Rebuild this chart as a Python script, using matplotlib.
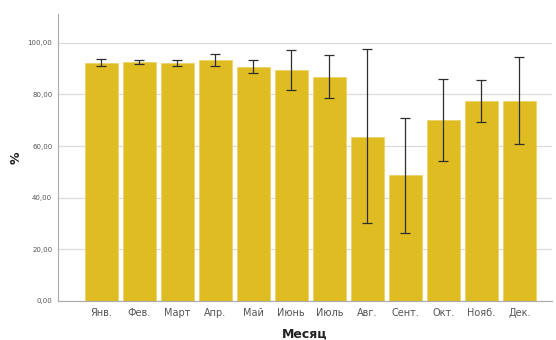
import matplotlib
matplotlib.use("Agg")
import matplotlib.pyplot as plt
import numpy as np

months = ["Янв.", "Фев.", "Март", "Апр.", "Май", "Июнь", "Июль", "Авг.", "Сент.", "Окт.", "Нояб.", "Дек."]
values = [92.2, 92.6, 92.2, 93.3, 90.8, 89.5, 86.9, 63.7, 48.6, 70.2, 77.4, 77.6]
err_high = [93.8, 93.4, 93.4, 95.7, 93.4, 97.3, 95.3, 97.7, 70.8, 86.0, 85.7, 94.4]
err_low = [91.1, 91.9, 91.2, 91.1, 88.4, 81.8, 78.6, 30.0, 26.5, 54.4, 69.4, 60.9]
yticks = [0, 20, 40, 60, 80, 100]
ytick_labels = ["0,00", "20,00", "40,00", "60,00", "80,00", "100,00"]

fig = plt.figure(figsize=(5.56, 3.40), dpi=100)
ax = fig.add_axes([0.104, 0.115, 0.889, 0.844])

x = np.arange(len(months))
vals = np.array(values)
lo = vals - np.array(err_low)
hi = np.array(err_high) - vals

ax.bar(x, vals, width=0.87, color="#DFBD22", edgecolor="#EBD36A", linewidth=0.6, zorder=2)
ax.errorbar(x, vals, yerr=[lo, hi], fmt="none", ecolor="#2e2e2e", elinewidth=0.9,
            capsize=3.5, capthick=0.9, zorder=3)

ax.set_xlim(-1.14, 11.86)
ax.set_ylim(0, 111.2)
ax.set_yticks(yticks)
ax.set_yticklabels(ytick_labels, fontsize=5, color="#555555")
ax.set_xticks(x)
ax.set_xticklabels(months, fontsize=7, color="#555555")
ax.tick_params(axis="both", length=0, pad=4)
ax.tick_params(axis="x", pad=5)

ax.yaxis.grid(True, color="#dcdcdc", linewidth=0.9, zorder=0)
ax.set_axisbelow(True)
for s in ["top", "right"]:
    ax.spines[s].set_visible(False)
ax.spines["left"].set_color("#aaaaaa")
ax.spines["bottom"].set_color("#aaaaaa")
ax.spines["left"].set_linewidth(0.8)
ax.spines["bottom"].set_linewidth(0.8)

ax.set_ylabel("%", fontsize=9, fontweight="bold", color="#222222")
ax.yaxis.set_label_coords(-0.072, 0.5)
ax.set_xlabel("Месяц", fontsize=9, fontweight="bold", color="#222222", labelpad=7)

fig.savefig("out.png", dpi=100)
